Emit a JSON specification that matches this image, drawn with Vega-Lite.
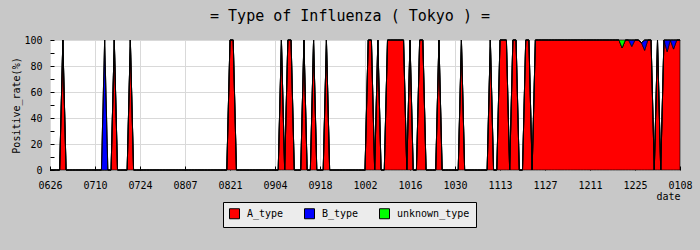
{
"$schema":"https://vega.github.io/schema/vega-lite/v6.json",
"width":630,"height":130,
"autosize":{"type":"none"},
"padding":{"left":50,"top":40,"right":20,"bottom":80},
"background":"#c8c8c8",
"title":{"text":"= Type of Influenza ( Tokyo ) =","font":"DejaVu Sans Mono","fontSize":15,"fontWeight":"normal","color":"black","anchor":"middle","frame":"group","dx":-15,"offset":11},
"config":{"view":{"fill":"white","stroke":"black","strokeWidth":1},"font":"DejaVu Sans Mono"},
"data":{"values":[
{"date":"2009-06-26","A_type":0,"B_type":0,"unknown_type":0},
{"date":"2009-06-27","A_type":0,"B_type":0,"unknown_type":0},
{"date":"2009-06-28","A_type":0,"B_type":0,"unknown_type":0},
{"date":"2009-06-29","A_type":0,"B_type":0,"unknown_type":0},
{"date":"2009-06-30","A_type":100,"B_type":0,"unknown_type":0},
{"date":"2009-07-01","A_type":0,"B_type":0,"unknown_type":0},
{"date":"2009-07-02","A_type":0,"B_type":0,"unknown_type":0},
{"date":"2009-07-03","A_type":0,"B_type":0,"unknown_type":0},
{"date":"2009-07-04","A_type":0,"B_type":0,"unknown_type":0},
{"date":"2009-07-05","A_type":0,"B_type":0,"unknown_type":0},
{"date":"2009-07-06","A_type":0,"B_type":0,"unknown_type":0},
{"date":"2009-07-07","A_type":0,"B_type":0,"unknown_type":0},
{"date":"2009-07-08","A_type":0,"B_type":0,"unknown_type":0},
{"date":"2009-07-09","A_type":0,"B_type":0,"unknown_type":0},
{"date":"2009-07-10","A_type":0,"B_type":0,"unknown_type":0},
{"date":"2009-07-11","A_type":0,"B_type":0,"unknown_type":0},
{"date":"2009-07-12","A_type":0,"B_type":0,"unknown_type":0},
{"date":"2009-07-13","A_type":0,"B_type":100,"unknown_type":0},
{"date":"2009-07-14","A_type":0,"B_type":0,"unknown_type":0},
{"date":"2009-07-15","A_type":0,"B_type":0,"unknown_type":0},
{"date":"2009-07-16","A_type":100,"B_type":0,"unknown_type":0},
{"date":"2009-07-17","A_type":0,"B_type":0,"unknown_type":0},
{"date":"2009-07-18","A_type":0,"B_type":0,"unknown_type":0},
{"date":"2009-07-19","A_type":0,"B_type":0,"unknown_type":0},
{"date":"2009-07-20","A_type":0,"B_type":0,"unknown_type":0},
{"date":"2009-07-21","A_type":100,"B_type":0,"unknown_type":0},
{"date":"2009-07-22","A_type":0,"B_type":0,"unknown_type":0},
{"date":"2009-07-23","A_type":0,"B_type":0,"unknown_type":0},
{"date":"2009-07-24","A_type":0,"B_type":0,"unknown_type":0},
{"date":"2009-07-25","A_type":0,"B_type":0,"unknown_type":0},
{"date":"2009-07-26","A_type":0,"B_type":0,"unknown_type":0},
{"date":"2009-07-27","A_type":0,"B_type":0,"unknown_type":0},
{"date":"2009-07-28","A_type":0,"B_type":0,"unknown_type":0},
{"date":"2009-07-29","A_type":0,"B_type":0,"unknown_type":0},
{"date":"2009-07-30","A_type":0,"B_type":0,"unknown_type":0},
{"date":"2009-07-31","A_type":0,"B_type":0,"unknown_type":0},
{"date":"2009-08-01","A_type":0,"B_type":0,"unknown_type":0},
{"date":"2009-08-02","A_type":0,"B_type":0,"unknown_type":0},
{"date":"2009-08-03","A_type":0,"B_type":0,"unknown_type":0},
{"date":"2009-08-04","A_type":0,"B_type":0,"unknown_type":0},
{"date":"2009-08-05","A_type":0,"B_type":0,"unknown_type":0},
{"date":"2009-08-06","A_type":0,"B_type":0,"unknown_type":0},
{"date":"2009-08-07","A_type":0,"B_type":0,"unknown_type":0},
{"date":"2009-08-08","A_type":0,"B_type":0,"unknown_type":0},
{"date":"2009-08-09","A_type":0,"B_type":0,"unknown_type":0},
{"date":"2009-08-10","A_type":0,"B_type":0,"unknown_type":0},
{"date":"2009-08-11","A_type":0,"B_type":0,"unknown_type":0},
{"date":"2009-08-12","A_type":0,"B_type":0,"unknown_type":0},
{"date":"2009-08-13","A_type":0,"B_type":0,"unknown_type":0},
{"date":"2009-08-14","A_type":0,"B_type":0,"unknown_type":0},
{"date":"2009-08-15","A_type":0,"B_type":0,"unknown_type":0},
{"date":"2009-08-16","A_type":0,"B_type":0,"unknown_type":0},
{"date":"2009-08-17","A_type":0,"B_type":0,"unknown_type":0},
{"date":"2009-08-18","A_type":0,"B_type":0,"unknown_type":0},
{"date":"2009-08-19","A_type":0,"B_type":0,"unknown_type":0},
{"date":"2009-08-20","A_type":0,"B_type":0,"unknown_type":0},
{"date":"2009-08-21","A_type":100,"B_type":0,"unknown_type":0},
{"date":"2009-08-22","A_type":100,"B_type":0,"unknown_type":0},
{"date":"2009-08-23","A_type":0,"B_type":0,"unknown_type":0},
{"date":"2009-08-24","A_type":0,"B_type":0,"unknown_type":0},
{"date":"2009-08-25","A_type":0,"B_type":0,"unknown_type":0},
{"date":"2009-08-26","A_type":0,"B_type":0,"unknown_type":0},
{"date":"2009-08-27","A_type":0,"B_type":0,"unknown_type":0},
{"date":"2009-08-28","A_type":0,"B_type":0,"unknown_type":0},
{"date":"2009-08-29","A_type":0,"B_type":0,"unknown_type":0},
{"date":"2009-08-30","A_type":0,"B_type":0,"unknown_type":0},
{"date":"2009-08-31","A_type":0,"B_type":0,"unknown_type":0},
{"date":"2009-09-01","A_type":0,"B_type":0,"unknown_type":0},
{"date":"2009-09-02","A_type":0,"B_type":0,"unknown_type":0},
{"date":"2009-09-03","A_type":0,"B_type":0,"unknown_type":0},
{"date":"2009-09-04","A_type":0,"B_type":0,"unknown_type":0},
{"date":"2009-09-05","A_type":0,"B_type":0,"unknown_type":0},
{"date":"2009-09-06","A_type":100,"B_type":0,"unknown_type":0},
{"date":"2009-09-07","A_type":0,"B_type":0,"unknown_type":0},
{"date":"2009-09-08","A_type":100,"B_type":0,"unknown_type":0},
{"date":"2009-09-09","A_type":100,"B_type":0,"unknown_type":0},
{"date":"2009-09-10","A_type":0,"B_type":0,"unknown_type":0},
{"date":"2009-09-11","A_type":0,"B_type":0,"unknown_type":0},
{"date":"2009-09-12","A_type":0,"B_type":0,"unknown_type":0},
{"date":"2009-09-13","A_type":100,"B_type":0,"unknown_type":0},
{"date":"2009-09-14","A_type":0,"B_type":0,"unknown_type":0},
{"date":"2009-09-15","A_type":0,"B_type":0,"unknown_type":0},
{"date":"2009-09-16","A_type":100,"B_type":0,"unknown_type":0},
{"date":"2009-09-17","A_type":0,"B_type":0,"unknown_type":0},
{"date":"2009-09-18","A_type":0,"B_type":0,"unknown_type":0},
{"date":"2009-09-19","A_type":0,"B_type":0,"unknown_type":0},
{"date":"2009-09-20","A_type":100,"B_type":0,"unknown_type":0},
{"date":"2009-09-21","A_type":0,"B_type":0,"unknown_type":0},
{"date":"2009-09-22","A_type":0,"B_type":0,"unknown_type":0},
{"date":"2009-09-23","A_type":0,"B_type":0,"unknown_type":0},
{"date":"2009-09-24","A_type":0,"B_type":0,"unknown_type":0},
{"date":"2009-09-25","A_type":0,"B_type":0,"unknown_type":0},
{"date":"2009-09-26","A_type":0,"B_type":0,"unknown_type":0},
{"date":"2009-09-27","A_type":0,"B_type":0,"unknown_type":0},
{"date":"2009-09-28","A_type":0,"B_type":0,"unknown_type":0},
{"date":"2009-09-29","A_type":0,"B_type":0,"unknown_type":0},
{"date":"2009-09-30","A_type":0,"B_type":0,"unknown_type":0},
{"date":"2009-10-01","A_type":0,"B_type":0,"unknown_type":0},
{"date":"2009-10-02","A_type":0,"B_type":0,"unknown_type":0},
{"date":"2009-10-03","A_type":100,"B_type":0,"unknown_type":0},
{"date":"2009-10-04","A_type":100,"B_type":0,"unknown_type":0},
{"date":"2009-10-05","A_type":0,"B_type":0,"unknown_type":0},
{"date":"2009-10-06","A_type":100,"B_type":0,"unknown_type":0},
{"date":"2009-10-07","A_type":0,"B_type":0,"unknown_type":0},
{"date":"2009-10-08","A_type":0,"B_type":0,"unknown_type":0},
{"date":"2009-10-09","A_type":100,"B_type":0,"unknown_type":0},
{"date":"2009-10-10","A_type":100,"B_type":0,"unknown_type":0},
{"date":"2009-10-11","A_type":100,"B_type":0,"unknown_type":0},
{"date":"2009-10-12","A_type":100,"B_type":0,"unknown_type":0},
{"date":"2009-10-13","A_type":100,"B_type":0,"unknown_type":0},
{"date":"2009-10-14","A_type":100,"B_type":0,"unknown_type":0},
{"date":"2009-10-15","A_type":0,"B_type":0,"unknown_type":0},
{"date":"2009-10-16","A_type":100,"B_type":0,"unknown_type":0},
{"date":"2009-10-17","A_type":0,"B_type":0,"unknown_type":0},
{"date":"2009-10-18","A_type":0,"B_type":0,"unknown_type":0},
{"date":"2009-10-19","A_type":100,"B_type":0,"unknown_type":0},
{"date":"2009-10-20","A_type":100,"B_type":0,"unknown_type":0},
{"date":"2009-10-21","A_type":0,"B_type":0,"unknown_type":0},
{"date":"2009-10-22","A_type":0,"B_type":0,"unknown_type":0},
{"date":"2009-10-23","A_type":0,"B_type":0,"unknown_type":0},
{"date":"2009-10-24","A_type":0,"B_type":0,"unknown_type":0},
{"date":"2009-10-25","A_type":100,"B_type":0,"unknown_type":0},
{"date":"2009-10-26","A_type":0,"B_type":0,"unknown_type":0},
{"date":"2009-10-27","A_type":0,"B_type":0,"unknown_type":0},
{"date":"2009-10-28","A_type":0,"B_type":0,"unknown_type":0},
{"date":"2009-10-29","A_type":0,"B_type":0,"unknown_type":0},
{"date":"2009-10-30","A_type":0,"B_type":0,"unknown_type":0},
{"date":"2009-10-31","A_type":0,"B_type":0,"unknown_type":0},
{"date":"2009-11-01","A_type":100,"B_type":0,"unknown_type":0},
{"date":"2009-11-02","A_type":0,"B_type":0,"unknown_type":0},
{"date":"2009-11-03","A_type":0,"B_type":0,"unknown_type":0},
{"date":"2009-11-04","A_type":0,"B_type":0,"unknown_type":0},
{"date":"2009-11-05","A_type":0,"B_type":0,"unknown_type":0},
{"date":"2009-11-06","A_type":0,"B_type":0,"unknown_type":0},
{"date":"2009-11-07","A_type":0,"B_type":0,"unknown_type":0},
{"date":"2009-11-08","A_type":0,"B_type":0,"unknown_type":0},
{"date":"2009-11-09","A_type":0,"B_type":0,"unknown_type":0},
{"date":"2009-11-10","A_type":100,"B_type":0,"unknown_type":0},
{"date":"2009-11-11","A_type":0,"B_type":0,"unknown_type":0},
{"date":"2009-11-12","A_type":0,"B_type":0,"unknown_type":0},
{"date":"2009-11-13","A_type":100,"B_type":0,"unknown_type":0},
{"date":"2009-11-14","A_type":100,"B_type":0,"unknown_type":0},
{"date":"2009-11-15","A_type":100,"B_type":0,"unknown_type":0},
{"date":"2009-11-16","A_type":0,"B_type":0,"unknown_type":0},
{"date":"2009-11-17","A_type":100,"B_type":0,"unknown_type":0},
{"date":"2009-11-18","A_type":100,"B_type":0,"unknown_type":0},
{"date":"2009-11-19","A_type":0,"B_type":0,"unknown_type":0},
{"date":"2009-11-20","A_type":0,"B_type":0,"unknown_type":0},
{"date":"2009-11-21","A_type":100,"B_type":0,"unknown_type":0},
{"date":"2009-11-22","A_type":100,"B_type":0,"unknown_type":0},
{"date":"2009-11-23","A_type":0,"B_type":0,"unknown_type":0},
{"date":"2009-11-24","A_type":100,"B_type":0,"unknown_type":0},
{"date":"2009-11-25","A_type":100,"B_type":0,"unknown_type":0},
{"date":"2009-11-26","A_type":100,"B_type":0,"unknown_type":0},
{"date":"2009-11-27","A_type":100,"B_type":0,"unknown_type":0},
{"date":"2009-11-28","A_type":100,"B_type":0,"unknown_type":0},
{"date":"2009-11-29","A_type":100,"B_type":0,"unknown_type":0},
{"date":"2009-11-30","A_type":100,"B_type":0,"unknown_type":0},
{"date":"2009-12-01","A_type":100,"B_type":0,"unknown_type":0},
{"date":"2009-12-02","A_type":100,"B_type":0,"unknown_type":0},
{"date":"2009-12-03","A_type":100,"B_type":0,"unknown_type":0},
{"date":"2009-12-04","A_type":100,"B_type":0,"unknown_type":0},
{"date":"2009-12-05","A_type":100,"B_type":0,"unknown_type":0},
{"date":"2009-12-06","A_type":100,"B_type":0,"unknown_type":0},
{"date":"2009-12-07","A_type":100,"B_type":0,"unknown_type":0},
{"date":"2009-12-08","A_type":100,"B_type":0,"unknown_type":0},
{"date":"2009-12-09","A_type":100,"B_type":0,"unknown_type":0},
{"date":"2009-12-10","A_type":100,"B_type":0,"unknown_type":0},
{"date":"2009-12-11","A_type":100,"B_type":0,"unknown_type":0},
{"date":"2009-12-12","A_type":100,"B_type":0,"unknown_type":0},
{"date":"2009-12-13","A_type":100,"B_type":0,"unknown_type":0},
{"date":"2009-12-14","A_type":100,"B_type":0,"unknown_type":0},
{"date":"2009-12-15","A_type":100,"B_type":0,"unknown_type":0},
{"date":"2009-12-16","A_type":100,"B_type":0,"unknown_type":0},
{"date":"2009-12-17","A_type":100,"B_type":0,"unknown_type":0},
{"date":"2009-12-18","A_type":100,"B_type":0,"unknown_type":0},
{"date":"2009-12-19","A_type":100,"B_type":0,"unknown_type":0},
{"date":"2009-12-20","A_type":100,"B_type":0,"unknown_type":0},
{"date":"2009-12-21","A_type":94,"B_type":0,"unknown_type":6},
{"date":"2009-12-22","A_type":100,"B_type":0,"unknown_type":0},
{"date":"2009-12-23","A_type":100,"B_type":0,"unknown_type":0},
{"date":"2009-12-24","A_type":95,"B_type":5,"unknown_type":0},
{"date":"2009-12-25","A_type":100,"B_type":0,"unknown_type":0},
{"date":"2009-12-26","A_type":100,"B_type":0,"unknown_type":0},
{"date":"2009-12-27","A_type":98,"B_type":0,"unknown_type":0},
{"date":"2009-12-28","A_type":92,"B_type":8,"unknown_type":0},
{"date":"2009-12-29","A_type":100,"B_type":0,"unknown_type":0},
{"date":"2009-12-30","A_type":100,"B_type":0,"unknown_type":0},
{"date":"2009-12-31","A_type":0,"B_type":0,"unknown_type":0},
{"date":"2010-01-01","A_type":100,"B_type":0,"unknown_type":0},
{"date":"2010-01-02","A_type":0,"B_type":0,"unknown_type":0},
{"date":"2010-01-03","A_type":100,"B_type":0,"unknown_type":0},
{"date":"2010-01-04","A_type":91,"B_type":9,"unknown_type":0},
{"date":"2010-01-05","A_type":100,"B_type":0,"unknown_type":0},
{"date":"2010-01-06","A_type":93,"B_type":7,"unknown_type":0},
{"date":"2010-01-07","A_type":100,"B_type":0,"unknown_type":0},
{"date":"2010-01-08","A_type":100,"B_type":0,"unknown_type":0}
]},
"transform":[{"fold":["A_type","B_type","unknown_type"],"as":["type","rate"]}],
"mark":{"type":"area","interpolate":"linear","stroke":"black","strokeWidth":0.7,"opacity":1,"fillOpacity":1},
"encoding":{
"x":{"field":"date","type":"temporal",
 "scale":{"type":"utc","domain":[{"year":2009,"month":6,"date":26,"utc":true},{"year":2010,"month":1,"date":8,"utc":true}]},
 "axis":{"values":[
  {"year":2009,"month":6,"date":26,"utc":true},
  {"year":2009,"month":7,"date":10,"utc":true},
  {"year":2009,"month":7,"date":24,"utc":true},
  {"year":2009,"month":8,"date":7,"utc":true},
  {"year":2009,"month":8,"date":21,"utc":true},
  {"year":2009,"month":9,"date":4,"utc":true},
  {"year":2009,"month":9,"date":18,"utc":true},
  {"year":2009,"month":10,"date":2,"utc":true},
  {"year":2009,"month":10,"date":16,"utc":true},
  {"year":2009,"month":10,"date":30,"utc":true},
  {"year":2009,"month":11,"date":13,"utc":true},
  {"year":2009,"month":11,"date":27,"utc":true},
  {"year":2009,"month":12,"date":11,"utc":true},
  {"year":2009,"month":12,"date":25,"utc":true},
  {"year":2010,"month":1,"date":8,"utc":true}],
  "format":"%m%d","labelFont":"DejaVu Sans Mono","labelFontSize":10,"labelColor":"black",
  "labelFlush":false,"labelOverlap":false,"labelPadding":14,"labelAngle":0,
  "tickSize":-4,"tickColor":"black","tickWidth":1,
  "domain":false,"grid":true,"gridColor":"#d9d9d9","gridWidth":1,
  "title":"date","titleFont":"DejaVu Sans Mono","titleFontSize":10,"titleFontWeight":"normal","titleColor":"black",
  "titleAnchor":"end","titleAlign":"right","titlePadding":1}},
"y":{"field":"rate","type":"quantitative","stack":"zero",
 "scale":{"domain":[0,100],"nice":false},
 "axis":{"values":[0,10,20,30,40,50,60,70,80,90,100],
  "labelExpr":"datum.value % 20 === 0 ? datum.label : ''",
  "labelFont":"DejaVu Sans Mono","labelFontSize":10,"labelColor":"black","labelPadding":12,
  "tickSize":-4,"tickColor":"black","tickWidth":1,
  "domain":false,"grid":true,"gridColor":"#d9d9d9",
  "gridOpacity":{"condition":{"test":"datum.value % 20 === 0","value":1},"value":0},
  "title":"Positive_rate(%)","titleFont":"DejaVu Sans Mono","titleFontSize":10,"titleFontWeight":"normal","titleColor":"black","titlePadding":2}},
"color":{"field":"type","type":"nominal",
 "scale":{"domain":["A_type","B_type","unknown_type"],"range":["#ff0000","#0000ff","#00ff00"]},
 "legend":{"orient":"none","legendX":173,"legendY":162,"direction":"horizontal","title":null,
  "symbolType":"square","symbolSize":100,"symbolStrokeColor":"black","symbolStrokeWidth":1,"symbolOpacity":1,
  "labelFont":"DejaVu Sans Mono","labelFontSize":10,"labelColor":"black","labelOffset":7,
  "columnPadding":18,"padding":6,"fillColor":"#ececec","strokeColor":"black"}},
"order":{"field":"type","type":"ordinal","sort":"ascending"}
}
}
